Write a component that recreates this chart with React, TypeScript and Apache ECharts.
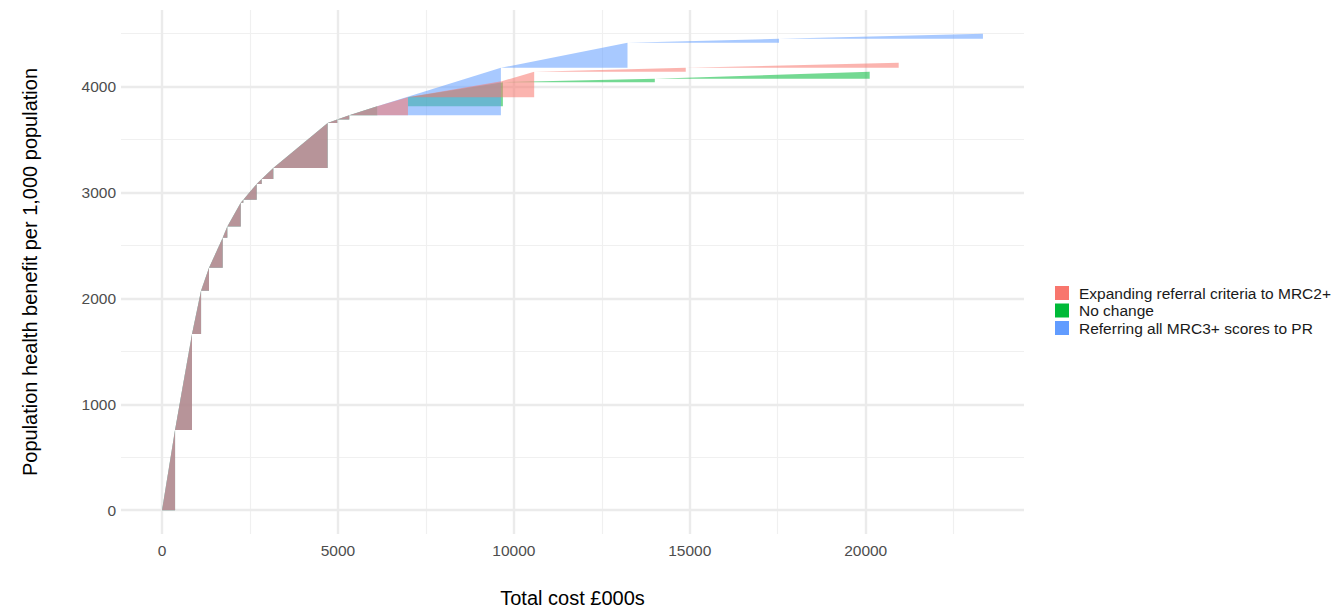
import React, { useEffect, useRef } from "react";
import * as echarts from "echarts";

// Shared part of the frontier (all three scenarios)
const sharedCost = [0, 369, 852, 1108, 1335, 1724, 1855, 2236, 2310, 2690, 2832, 3162, 4707, 4980, 5321, 6116];
const sharedBenefit = [0, 756, 1664, 2071, 2288, 2572, 2679, 2903, 2931, 3080, 3127, 3231, 3657, 3688, 3728, 3814];

// Scenario-specific continuations (cost, benefit, lower edge of each shaded step)
const expandCost = [6989, 9651, 10577, 14886, 20938];
const expandBenefit = [3899, 4050, 4139, 4177, 4224];
const expandBase = [3728, 3899, 3899, 4139, 4177];

const noChangeCost = [6989, 9688, 14006, 20114];
const noChangeBenefit = [3899, 4041, 4073, 4139];
const noChangeBase: (number | null)[] = [null, 3814, 4041, 4073];

const referCost = [9631, 13230, 17537, 23333];
const referBenefit = [4177, 4413, 4451, 4498];
const referBase = [3728, 4177, 4413, 4451];

const seriesNames = [
  "Expanding referral criteria to MRC2+",
  "No change",
  "Referring all MRC3+ scores to PR",
];

const xTicks = [0, 5000, 10000, 15000, 20000];
const xMinor = [2500, 7500, 12500, 17500, 22500];
const yTicks = [0, 1000, 2000, 3000, 4000];
const yMinor = [500, 1500, 2500, 3500, 4500];

const FONT = "'Liberation Sans', Arial, sans-serif";

function buildSegments(cost: number[], benefit: number[], base: (number | null)[]) {
  const c = sharedCost.concat(cost);
  const b = sharedBenefit.concat(benefit);
  const bases: (number | null)[] = (sharedBenefit.slice(0, -1) as (number | null)[]).concat(base);
  const out: number[][] = [];
  for (let i = 0; i < c.length - 1; i++) {
    const bs = bases[i];
    if (bs == null) continue;
    out.push([c[i], b[i], c[i + 1], b[i + 1], bs]);
  }
  return out;
}

function makeSeries(name: string, color: string, fill: string, data: number[][], z: number) {
  return {
    type: "custom",
    name,
    z,
    xAxisIndex: 0,
    yAxisIndex: 0,
    itemStyle: { color },
    encode: { x: [0, 2], y: [1, 3, 4] },
    data,
    renderItem: (params: any, api: any) => {
      const x0 = api.value(0);
      const y0 = api.value(1);
      const x1 = api.value(2);
      const y1 = api.value(3);
      const bs = api.value(4);
      const pts = [
        api.coord([x0, bs]),
        api.coord([x0, y0]),
        api.coord([x1, y1]),
        api.coord([x1, bs]),
      ];
      return {
        type: "polygon",
        shape: { points: pts },
        style: { fill, stroke: null },
      };
    },
  };
}

export default function App() {
  const ref = useRef<HTMLDivElement>(null);
  useEffect(() => {
    if (!ref.current) return;
    const chart = echarts.init(ref.current, null, { renderer: "svg" });
    const axisLabelStyle = {
      color: "#4d4d4d",
      fontSize: 15.5,
      fontFamily: FONT,
      formatter: (v: number) => String(v),
    };
    const option: any = {
      animation: false,
      backgroundColor: "#ffffff",
      grid: { left: 121, right: 313, top: 10, bottom: 74, containLabel: false, outerBoundsMode: "none" },
      legend: {
        orient: "vertical",
        left: 1055,
        top: 285,
        padding: 0,
        itemWidth: 14,
        itemHeight: 14,
        itemGap: 1.5,
        icon: "rect",
        data: seriesNames,
        textStyle: {
          fontSize: 15.5,
          lineHeight: 14,
          color: "#1a1a1a",
          fontFamily: FONT,
          padding: [0, 0, 0, 5],
        },
      },
      xAxis: [
        {
          type: "value",
          min: -1167,
          max: 24500,
          name: "Total cost £000s",
          nameLocation: "middle",
          nameGap: 54,
          nameTextStyle: { fontSize: 20, color: "#000", fontFamily: FONT },
          axisLine: { show: false },
          axisTick: { show: false, customValues: xTicks },
          axisLabel: { customValues: xTicks, margin: 8, ...axisLabelStyle },
          splitLine: { show: true, lineStyle: { color: "#ebebeb", width: 2.4 } },
          z: 1,
        },
        {
          type: "value",
          min: -1167,
          max: 24500,
          position: "bottom",
          axisLine: { show: false },
          axisTick: { show: false, customValues: xMinor },
          axisLabel: { show: false, customValues: xMinor },
          splitLine: { show: true, lineStyle: { color: "#f0f0f0", width: 1.2 } },
          z: 0,
        },
      ],
      yAxis: [
        {
          type: "value",
          min: -225,
          max: 4723,
          name: "Population health benefit per 1,000 population",
          nameLocation: "middle",
          nameGap: 81,
          nameRotate: 90,
          nameTextStyle: { fontSize: 20, color: "#000", fontFamily: FONT },
          axisLine: { show: false },
          axisTick: { show: false, customValues: yTicks },
          axisLabel: { customValues: yTicks, margin: 5, ...axisLabelStyle },
          splitLine: { show: true, lineStyle: { color: "#ebebeb", width: 2.4 } },
          z: 1,
        },
        {
          type: "value",
          min: -225,
          max: 4723,
          position: "left",
          axisLine: { show: false },
          axisTick: { show: false, customValues: yMinor },
          axisLabel: { show: false, customValues: yMinor },
          splitLine: { show: true, lineStyle: { color: "#f0f0f0", width: 1.2 } },
          z: 0,
        },
      ],
      series: [
        makeSeries(seriesNames[1], "#00BA38", "rgba(0,186,56,0.55)", buildSegments(noChangeCost, noChangeBenefit, noChangeBase), 2),
        makeSeries(seriesNames[2], "#619CFF", "rgba(97,156,255,0.55)", buildSegments(referCost, referBenefit, referBase), 3),
        makeSeries(seriesNames[0], "#F8766D", "rgba(248,118,109,0.55)", buildSegments(expandCost, expandBenefit, expandBase), 4),
      ],
    };
    chart.setOption(option);
    return () => chart.dispose();
  }, []);
  return (
    <div
      ref={ref}
      style={{ position: "fixed", left: 0, top: 0, width: 1337, height: 608, background: "#fff" }}
    />
  );
}
